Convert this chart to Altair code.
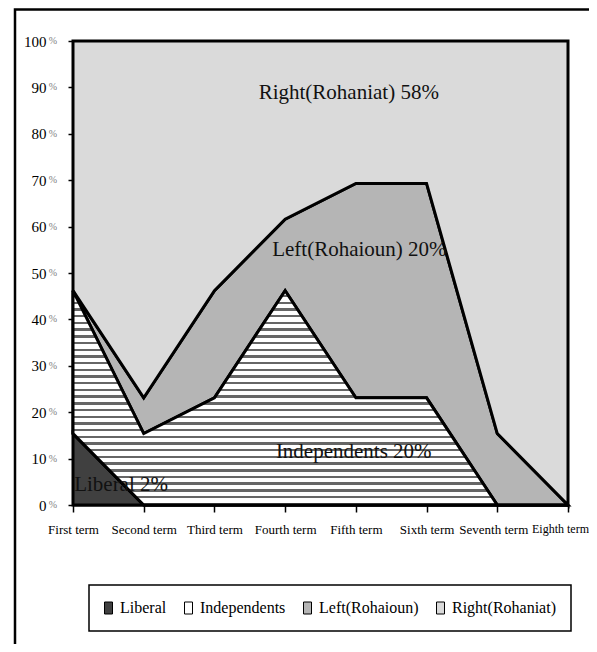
import json
import altair as alt
import pandas as pd

terms = ["First term", "Second term", "Third term", "Fourth term",
         "Fifth term", "Sixth term", "Seventh term", "Eighth term"]
series_names = ["Liberal", "Independents", "Left(Rohaioun)", "Right(Rohaniat)"]
liberal = [15.4, 0, 0, 0, 0, 0, 0, 0]
independents = [30.8, 15.4, 23.1, 46.2, 23.1, 23.1, 0, 0]
left = [0, 7.7, 23.1, 15.4, 46.2, 46.2, 15.4, 0]
right = [53.8, 76.9, 53.8, 38.4, 30.7, 30.7, 84.6, 100]
y_ticks = [0, 10, 20, 30, 40, 50, 60, 70, 80, 90, 100]

ann_text = ["Right(Rohaniat) 58%", "Left(Rohaioun) 20%", "Independents 20%", "Liberal 2%"]
ann_x = [3.9, 4.05, 3.97, 0.68]
ann_y = [88.8, 55.0, 11.4, 4.3]

colors = ["#404040", "#ffffff", "#b5b5b5", "#dadada"]

rows = []
cum = [0.0] * len(terms)
for name, vals in zip(series_names, [liberal, independents, left, right]):
    for i, v in enumerate(vals):
        rows.append({"series": name, "x": i, "lower": cum[i], "upper": cum[i] + v})
    cum = [c + v for c, v in zip(cum, vals)]
df = pd.DataFrame(rows)

ann_df = pd.DataFrame({"t": ann_text, "x": ann_x, "y": ann_y})
pct_df = pd.DataFrame({"v": y_ticks})
frame_df = pd.DataFrame({"a": [0]})

label_expr = json.dumps(terms) + "[datum.value]"

x_enc = alt.X("x:Q", scale=alt.Scale(domain=[0, 7], nice=False, zero=False),
              axis=alt.Axis(values=list(range(8)), labelExpr=label_expr, title=None,
                            tickSize=7, labelPadding=11, labelFlush=False,
                            labelFontSize={"condition": {"test": "datum.value == 7", "value": 12}, "value": 13},
                            labelOffset={"condition": [{"test": "datum.value == 7", "value": -8},
                                                       {"test": "datum.value == 6", "value": -4}],
                                         "value": 0},
                            labelAngle=0, labelOverlap=False))
y_scale = alt.Scale(domain=[0, 100], nice=False)

base = alt.Chart(df).mark_area(stroke="black", strokeWidth=3).encode(
    x=x_enc,
    y=alt.Y("upper:Q", scale=y_scale,
            axis=alt.Axis(values=y_ticks, format="d", title=None, tickSize=5,
                          labelPadding=22, labelFontSize=15)),
    y2="lower:Q",
    color=alt.Color("series:N",
                    scale=alt.Scale(domain=series_names, range=colors),
                    sort=series_names,
                    legend=alt.Legend(orient="none", legendX=16, legendY=544,
                                      direction="horizontal", title=None,
                                      padding=15, strokeColor="black",
                                      columnPadding=15, labelFont="Liberation Serif",
                                      labelFontSize=16, labelColor="black",
                                      labelOffset=0,
                                      symbolType="M-1.5,-1.2L0.1,-1.2L0.1,1.2L-1.5,1.2Z",
                                      symbolSize=100, symbolStrokeColor="black",
                                      symbolStrokeWidth=1)),
)

n = 32
dark = "#666666"
stops = []
for i in range(n):
    a = round(i / n, 5)
    b = round((i + 0.64) / n, 5)
    c = round((i + 1) / n, 5)
    stops += [alt.GradientStop(color="white", offset=a),
              alt.GradientStop(color="white", offset=b),
              alt.GradientStop(color=dark, offset=b),
              alt.GradientStop(color=dark, offset=c)]
hatch = alt.LinearGradient(gradient="linear", stops=stops, x1=0, x2=0, y1=0, y2=1)

hatch_layer = alt.Chart(df).transform_filter(
    alt.datum.series == "Independents"
).mark_area(fill=hatch, stroke="black", strokeWidth=3).encode(
    x="x:Q", y="upper:Q", y2="lower:Q"
)

ann = alt.Chart(ann_df).mark_text(font="Liberation Serif", fontSize=21, color="#111111",
                                  align="center", baseline="middle").encode(
    x="x:Q", y="y:Q", text="t:N"
)

pct = alt.Chart(pct_df).mark_text(font="Liberation Serif", fontSize=10, color="#808080",
                                  align="right", baseline="middle").encode(
    y=alt.Y("v:Q"), x=alt.value(-16), text=alt.value("%")
)

frame = alt.Chart(frame_df).mark_rect(filled=False, stroke="black", strokeWidth=2.5).encode(
    x=alt.value(-58), x2=alt.value(600), y=alt.value(-31.5), y2=alt.value(700)
)

chart = alt.layer(base, hatch_layer, ann, pct, frame).properties(
    width=495, height=464,
    autosize=alt.AutoSizeParams(type="none"),
    padding={"left": 65, "top": 33, "right": 21, "bottom": 139},
).configure_axis(
    domainColor="black", domainWidth=2, tickColor="black", tickWidth=1.5,
    labelFont="Liberation Serif", labelColor="black", grid=False
).configure_view(strokeWidth=0).configure_legend(strokeWidth=1.5)

chart.save("out.html", embed_options={"renderer": "svg", "actions": False})
